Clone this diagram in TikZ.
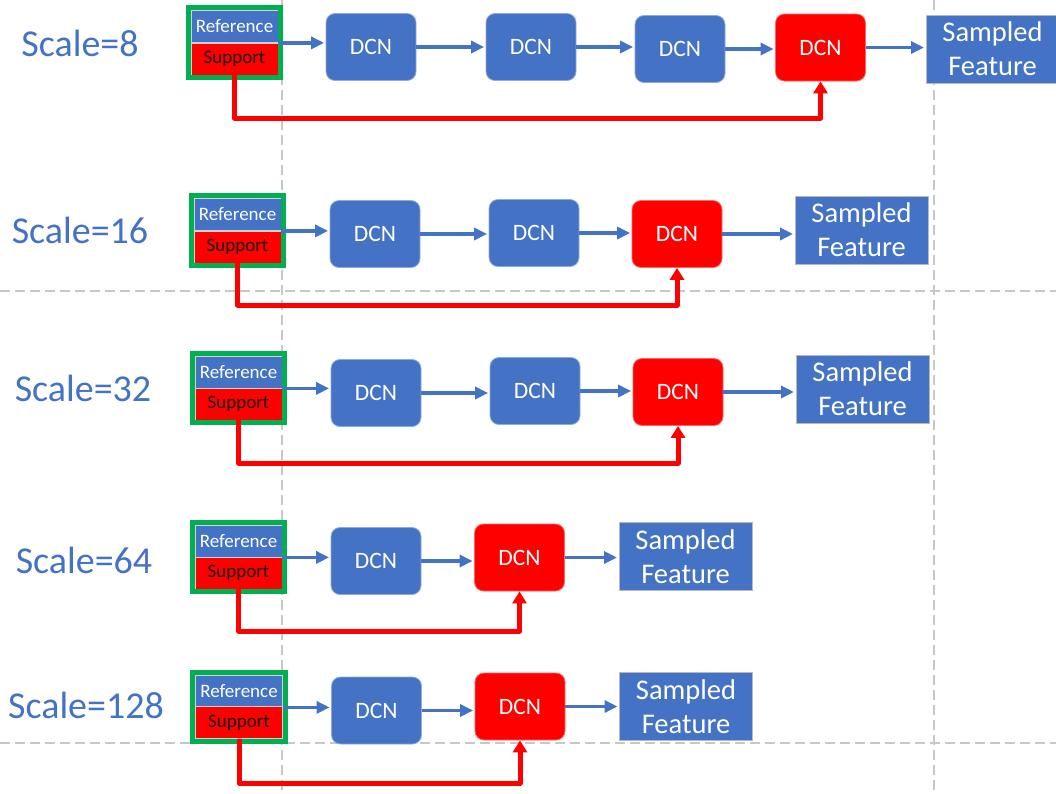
\documentclass[tikz,border=0pt]{standalone}
\usepackage{fontspec}
\setmainfont{Carlito}
\usetikzlibrary{arrows.meta,fit}

\definecolor{officeblue}{HTML}{4472C4}
\definecolor{pured}{HTML}{FF0000}
\definecolor{framegreen}{HTML}{00B050}
\definecolor{guide}{HTML}{C8C8C8}

\tikzset{
  guideline/.style={draw=guide, line width=1.4pt, dash pattern=on 10pt off 5pt},
  scalelabel/.style={text=officeblue, font=\fontsize{38}{44}\selectfont, inner sep=0pt},
  refpart/.style={fill=officeblue, draw=gray!35, line width=0.8pt, text=white,
    minimum width=87pt, minimum height=32pt, inner sep=0pt,
    font=\fontsize{19}{22}\selectfont},
  suppart/.style={fill=pured, draw=gray!35, line width=0.8pt, text=black!90,
    minimum width=87pt, minimum height=32pt, inner sep=0pt,
    font=\fontsize{19}{22}\selectfont},
  pairframe/.style={draw=framegreen, line width=5pt, inner sep=2.5pt},
  dcnblue/.style={fill=officeblue, draw=officeblue!60!white, line width=0.8pt,
    rounded corners=9pt, text=white, minimum width=90pt, minimum height=67pt,
    inner sep=0pt, font=\fontsize{23.5}{28}\selectfont},
  dcnred/.style={dcnblue, fill=pured, draw=pured!60!white},
  sampled/.style={fill=officeblue, draw=gray!55, line width=1pt, text=white,
    minimum width=133pt, minimum height=68pt, inner sep=0pt, align=center,
    font=\fontsize{28.5}{34}\selectfont},
  flow/.style={draw=officeblue, line width=3.6pt, shorten >=1.5pt,
    -{Triangle[length=13pt,width=12pt]}},
  feedback/.style={draw=pured, line width=5pt, line join=round,
    -{Triangle[length=12pt,width=14pt]}},
}

\begin{document}
\begin{tikzpicture}[x=1pt,y=-1pt]
  \useasboundingbox (0,0) rectangle (1056,793);

  % dashed guide lines behind everything
  \draw[guideline] (282,0) -- (282,793);
  \draw[guideline] (934,0) -- (934,793);
  \draw[guideline] (0,291) -- (1056,291);
  \draw[guideline] (0,743) -- (1056,743);

  % ---------- Scale = 8 ----------
  \node[scalelabel] (l1) at (80,43) {Scale=8};
  \node[refpart] (r1) at (234.5,26.5) {Reference};
  \node[suppart] (u1) at (234.5,59) {Support};
  \node[pairframe, fit=(r1)(u1)] (f1) {};
  \node[dcnblue] (d11) at (371,47) {DCN};
  \node[dcnblue] (d12) at (531,47) {DCN};
  \node[dcnblue] (d13) at (680,49) {DCN};
  \node[dcnred]  (d14) at (820.5,47.5) {DCN};
  \node[sampled] (s1) at (992.5,49) {Sampled\\Feature};
  \coordinate (k1) at (0,118);
  \draw[flow] (r1.south east) -- (r1.south east -| d11.west);
  \draw[flow] (d11.east) -- (d11.east -| d12.west);
  \draw[flow] (d12.east) -- (d12.east -| d13.west);
  \draw[flow] (d13.east) -- (d13.east -| d14.west);
  \draw[flow] (d14.east) -- (d14.east -| s1.west);
  \draw[feedback] (u1.south) -- (u1.south |- k1) -| (d14.south);

  % ---------- Scale = 16 ----------
  \node[scalelabel] (l2) at (80,230) {Scale=16};
  \node[refpart] (r2) at (237.5,214.5) {Reference};
  \node[suppart] (u2) at (237.5,247) {Support};
  \node[pairframe, fit=(r2)(u2)] (f2) {};
  \node[dcnblue] (d21) at (375,234) {DCN};
  \node[dcnblue] (d22) at (534,233) {DCN};
  \node[dcnred]  (d23) at (677,234) {DCN};
  \node[sampled] (s2) at (861.5,230) {Sampled\\Feature};
  \coordinate (k2) at (0,305);
  \draw[flow] (r2.south east) -- (r2.south east -| d21.west);
  \draw[flow] (d21.east) -- (d21.east -| d22.west);
  \draw[flow] (d22.east) -- (d22.east -| d23.west);
  \draw[flow] (d23.east) -- (d23.east -| s2.west);
  \draw[feedback] (u2.south) -- (u2.south |- k2) -| (d23.south);

  % ---------- Scale = 32 ----------
  \node[scalelabel] (l3) at (83,388) {Scale=32};
  \node[refpart] (r3) at (238.5,372) {Reference};
  \node[suppart] (u3) at (238.5,404) {Support};
  \node[pairframe, fit=(r3)(u3)] (f3) {};
  \node[dcnblue] (d31) at (376,393) {DCN};
  \node[dcnblue] (d32) at (535,391) {DCN};
  \node[dcnred]  (d33) at (678,392) {DCN};
  \node[sampled] (s3) at (862.5,389) {Sampled\\Feature};
  \coordinate (k3) at (0,463);
  \draw[flow] (r3.south east) -- (r3.south east -| d31.west);
  \draw[flow] (d31.east) -- (d31.east -| d32.west);
  \draw[flow] (d32.east) -- (d32.east -| d33.west);
  \draw[flow] (d33.east) -- (d33.east -| s3.west);
  \draw[feedback] (u3.south) -- (u3.south |- k3) -| (d33.south);

  % ---------- Scale = 64 ----------
  \node[scalelabel] (l4) at (84,560) {Scale=64};
  \node[refpart] (r4) at (238.5,541) {Reference};
  \node[suppart] (u4) at (238.5,573) {Support};
  \node[pairframe, fit=(r4)(u4)] (f4) {};
  \node[dcnblue] (d41) at (376,561) {DCN};
  \node[dcnred]  (d42) at (519.5,557.5) {DCN};
  \node[sampled] (s4) at (685.5,556.5) {Sampled\\Feature};
  \coordinate (k4) at (0,631);
  \draw[flow] (r4.south east) -- (r4.south east -| d41.west);
  \draw[flow] (d41.east) -- (d41.east -| d42.west);
  \draw[flow] (d42.east) -- (d42.east -| s4.west);
  \draw[feedback] (u4.south) -- (u4.south |- k4) -| (d42.south);

  % ---------- Scale = 128 ----------
  \node[scalelabel] (l5) at (86,705) {Scale=128};
  \node[refpart] (r5) at (239,691) {Reference};
  \node[suppart] (u5) at (239,722.5) {Support};
  \node[pairframe, fit=(r5)(u5)] (f5) {};
  \node[dcnblue] (d51) at (376.5,710.5) {DCN};
  \node[dcnred]  (d52) at (520,706.5) {DCN};
  \node[sampled] (s5) at (686,706.5) {Sampled\\Feature};
  \coordinate (k5) at (0,783);
  \draw[flow] (r5.south east) -- (r5.south east -| d51.west);
  \draw[flow] (d51.east) -- (d51.east -| d52.west);
  \draw[flow] (d52.east) -- (d52.east -| s5.west);
  \draw[feedback] (u5.south) -- (u5.south |- k5) -| (d52.south);
\end{tikzpicture}
\end{document}
